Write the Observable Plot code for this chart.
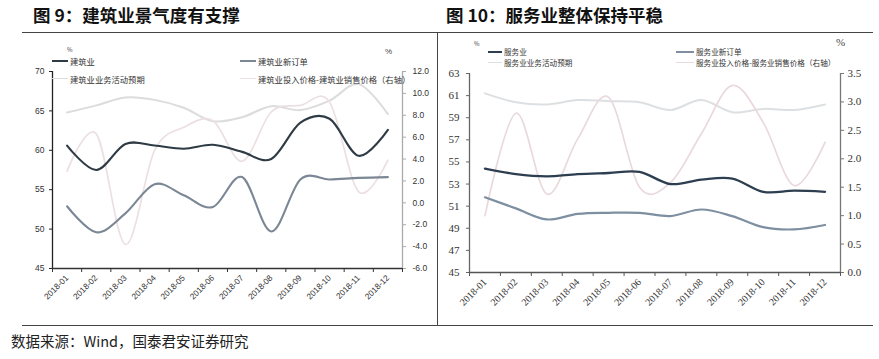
<!DOCTYPE html>
<html><head><meta charset="utf-8">
<script src="https://cdn.jsdelivr.net/npm/d3@7"></script>
<script src="https://cdn.jsdelivr.net/npm/@observablehq/plot@0.6"></script>
<style>
body{margin:0;background:#fff;}
#page{position:relative;width:879px;height:359px;overflow:hidden;background:#fff;font-family:"Noto Sans CJK SC",sans-serif;}
.abs{position:absolute;white-space:nowrap;}
.title{font-size:17.5px;font-weight:bold;color:#111;line-height:20px;}
.leg{font-size:8.3px;color:#333;line-height:10px;}
.sw{position:absolute;height:0;}
</style>
</head><body>
<div id="page">
  <div class="abs title" style="left:33px;top:5px;">图 9：建筑业景气度有支撑</div>
  <div class="abs title" style="left:446px;top:5px;">图 10：服务业整体保持平稳</div>
  <div class="abs" style="left:22px;top:32px;width:415px;height:292px;border-top:1.5px solid #444;border-bottom:1.5px solid #444;border-right:1.5px solid #444;"></div>
  <div class="abs" style="left:438px;top:32px;width:435px;height:292px;border-top:1.5px solid #444;border-bottom:1.5px solid #444;"></div>
  <div id="left" class="abs" style="left:0;top:33px;"></div>
  <div id="right" class="abs" style="left:438px;top:33px;"></div>
  <div id="legends"></div>
  <div class="abs" style="left:11px;top:331px;font-size:14.5px;color:#222;line-height:20px;">数据来源：Wind，国泰君安证券研究</div>
</div>
<script>
// ---------- data ----------
const months = ["2018-01","2018-02","2018-03","2018-04","2018-05","2018-06","2018-07","2018-08","2018-09","2018-10","2018-11","2018-12"];

// Figure 9 (construction)
const construction          = [60.6, 57.5, 60.8, 60.6, 60.2, 60.7, 59.8, 58.9, 63.5, 64.0, 59.3, 62.6];
const constructionNewOrders = [52.9, 49.6, 52.0, 55.7, 54.3, 52.8, 56.6, 49.7, 56.3, 56.3, 56.5, 56.6];
const constructionExpect    = [64.8, 65.7, 66.7, 66.4, 65.4, 63.7, 64.2, 65.6, 65.1, 66.3, 68.4, 64.6];
const constructionPriceGap  = [2.9, 6.3, -3.8, 4.8, 6.9, 7.5, 3.8, 8.3, 8.9, 9.2, 1.0, 3.9]; // right axis
const leftTicks9  = [45, 50, 55, 60, 65, 70];
const rightTicks9 = [-6, -4, -2, 0, 2, 4, 6, 8, 10, 12];

// Figure 10 (services)
const services          = [54.4, 53.9, 53.7, 53.9, 54.0, 54.1, 53.0, 53.4, 53.5, 52.3, 52.4, 52.3];
const servicesNewOrders = [51.8, 50.8, 49.8, 50.3, 50.4, 50.4, 50.1, 50.7, 50.1, 49.1, 48.9, 49.3];
const servicesExpect    = [61.2, 60.4, 60.2, 60.6, 60.5, 60.4, 59.7, 60.6, 59.5, 59.8, 59.7, 60.2];
const servicesPriceGap  = [1.0, 2.8, 1.38, 2.35, 3.08, 1.5, 1.58, 2.44, 3.29, 2.64, 1.53, 2.29]; // right axis
const leftTicks10  = [45, 47, 49, 51, 53, 55, 57, 59, 61, 63];
const rightTicks10 = [0, 0.5, 1, 1.5, 2, 2.5, 3, 3.5];

const legend9  = ["建筑业", "建筑业新订单", "建筑业业务活动预期", "建筑业投入价格-建筑业销售价格（右轴）"];
const legend10 = ["服务业", "服务业新订单", "服务业业务活动预期", "服务业投入价格-服务业销售价格（右轴）"];

// ---------- helpers ----------
const idx = d3.range(12);
function dualChart(cfg) {
  const [l0, l1] = cfg.leftDomain, [r0, r1] = cfg.rightDomain;
  const toL = r => l0 + (r - r0) * (l1 - l0) / (r1 - r0);
  const fromL = v => r0 + (v - l0) * (r1 - r0) / (l1 - l0);
  const fmtR = v => { const r = Math.round(fromL(v) * 10) / 10; return (r === 0 ? 0 : r).toFixed(1); };
  const line = (vals, stroke, w, right) => Plot.line(idx, {
    x: i => i + 0.5, y: i => right ? toL(vals[i]) : vals[i],
    curve: "cardinal", stroke, strokeWidth: w, strokeLinejoin: "round", strokeLinecap: "round"
  });
  return Plot.plot({
    width: cfg.width, height: cfg.height,
    marginLeft: cfg.ml, marginRight: cfg.mr, marginTop: cfg.mt, marginBottom: cfg.mb,
    x: {type: "linear", domain: [0, 12], axis: null},
    y: {domain: cfg.leftDomain, axis: null},
    style: {fontFamily: cfg.font, fontSize: cfg.fs + "px", color: "#333", background: "transparent", overflow: "visible"},
    marks: [
      line(cfg.s[2], cfg.c[2], cfg.w[2], false),
      line(cfg.s[3], cfg.c[3], cfg.w[3], true),
      line(cfg.s[1], cfg.c[1], cfg.w[1], false),
      line(cfg.s[0], cfg.c[0], cfg.w[0], false),
      Plot.ruleX([0], {stroke: cfg.axL, strokeWidth: 1.3}),
      Plot.ruleX([12], {stroke: cfg.axR, strokeWidth: 1.3}),
      Plot.ruleY([l0], {stroke: cfg.axB, strokeWidth: 1.5}),
      Plot.axisY({anchor: "left", ticks: cfg.leftTicks, tickSize: 3, tickPadding: cfg.padL, label: null, stroke: cfg.axL}),
      Plot.axisY({anchor: "right", ticks: cfg.rightTicks.map(toL), tickFormat: fmtR, tickSize: 3, tickPadding: cfg.padR, label: null, stroke: cfg.axR}),
      Plot.axisX({ticks: d3.range(13), tickSize: 4, tickFormat: () => "", label: null, stroke: cfg.axB}),
      Plot.axisX({ticks: idx.map(i => i + 0.5), tickFormat: v => months[Math.round(v - 0.5)], tickRotate: -45, tickSize: 0, tickPadding: cfg.padX, fontSize: cfg.fx, label: null})
    ]
  });
}

document.getElementById("left").appendChild(dualChart({
  width: 437, height: 292, ml: 52, mr: 35, mt: 38, mb: 57,
  leftDomain: [45, 70], rightDomain: [-6, 12], leftTicks: leftTicks9, rightTicks: rightTicks9,
  s: [construction, constructionNewOrders, constructionExpect, constructionPriceGap],
  c: ["#2e3b45", "#7b8794", "#dcdcdc", "#ecdfe2"], w: [2.1, 2.1, 2, 1.7],
  axL: "#222", axR: "#aaa", axB: "#333",
  font: "'Liberation Sans', Arial, sans-serif", fs: 8.5, fx: 8.3, padL: 5, padR: 7, padX: 8
}));

document.getElementById("right").appendChild(dualChart({
  width: 441, height: 293, ml: 31, mr: 39, mt: 40, mb: 54,
  leftDomain: [45, 63], rightDomain: [0, 3.5], leftTicks: leftTicks10, rightTicks: rightTicks10,
  s: [services, servicesNewOrders, servicesExpect, servicesPriceGap],
  c: ["#2d3e50", "#7d8fa0", "#dde0e3", "#ead9dc"], w: [2.3, 2.2, 2, 1.7],
  axL: "#666", axR: "#777", axB: "#555",
  font: "'Liberation Serif', 'Times New Roman', serif", fs: 11, fx: 10, padL: 7, padR: 4, padX: 8
}));

// ---------- legends ----------
function legendItem(x1, x2, y, color, w, text, fs) {
  return `<div class="sw abs" style="left:${x1}px;top:${y - w / 2}px;width:${x2 - x1}px;border-top:${w}px solid ${color};"></div>` +
         `<div class="abs leg" style="left:${x2 + 2}px;top:${y - 5}px;font-size:${fs}px;">${text}</div>`;
}
const lc9 = ["#2e3b45", "#7b8794", "#dcdcdc", "#ecdfe2"];
const lc10 = ["#2d3e50", "#7d8fa0", "#dde0e3", "#ead9dc"];
let html = "";
html += `<div class="abs" style="left:67px;top:45px;font-size:6px;color:#444;">%</div>`;
html += `<div class="abs" style="left:385px;top:47px;font-size:8px;color:#444;font-family:'Liberation Sans',sans-serif;">%</div>`;
html += legendItem(52, 68, 61, lc9[0], 2.2, legend9[0], 8.3);
html += legendItem(240, 256, 61, lc9[1], 2, legend9[1], 8.3);
html += legendItem(52, 68, 79, lc9[2], 1.8, legend9[2], 8.3);
html += legendItem(240, 256, 79, lc9[3], 1.5, legend9[3], 8.3);
html += `<div class="abs" style="left:474px;top:39px;font-size:6px;color:#444;">%</div>`;
html += `<div class="abs" style="left:836px;top:36px;font-size:11px;color:#444;font-family:'Liberation Serif',serif;">%</div>`;
html += legendItem(488, 502, 52, lc10[0], 2.2, legend10[0], 7.6);
html += legendItem(676, 694, 52, lc10[1], 2, legend10[1], 7.6);
html += legendItem(488, 502, 63, lc10[2], 1.8, legend10[2], 7.6);
html += legendItem(676, 694, 63, lc10[3], 1.5, legend10[3], 7.6);
document.getElementById("legends").innerHTML = html;
</script>
</body></html>
